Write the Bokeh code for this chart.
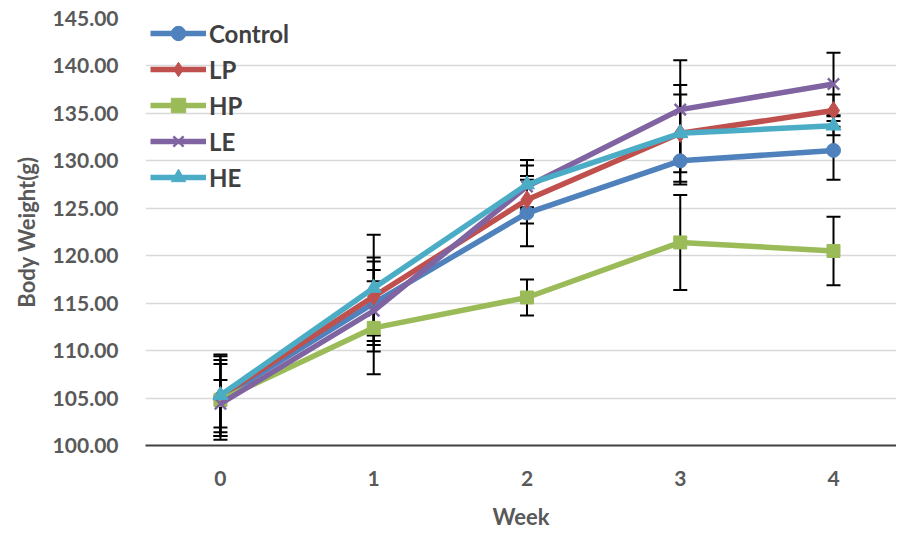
from bokeh.plotting import figure
from bokeh.models import ColumnDataSource, Whisker, TeeHead, Range1d, FixedTicker, NumeralTickFormatter, Legend, LegendItem
from bokeh.embed import file_html
from bokeh.resources import INLINE

weeks = [0, 1, 2, 3, 4]
series_names = ["Control", "LP", "HP", "LE", "HE"]
control = [105.0, 115.0, 124.5, 130.0, 131.1]
lp = [105.2, 115.7, 125.9, 132.9, 135.3]
hp = [104.8, 112.4, 115.6, 121.4, 120.5]
le = [104.4, 114.2, 127.3, 135.4, 138.1]
he = [105.3, 116.6, 127.5, 132.9, 133.7]
control_err = [4.4, 4.4, 3.5, 2.5, 3.1]
lp_err = [3.8, 4.1, 2.5, 5.1, 1.7]
hp_err = [3.8, 4.9, 1.9, 5.0, 3.6]
le_err = [2.5, 4.3, 2.2, 5.2, 3.3]
he_err = [4.3, 5.6, 2.6, 4.1, 1.0]

values = [control, lp, hp, le, he]
errors = [control_err, lp_err, hp_err, le_err, he_err]
colors = ["#4F81BD", "#C0504D", "#9BBB59", "#8064A2", "#4BACC6"]
markers = ["circle", "diamond", "square", "x", "triangle"]
msizes = [14, 18, 13, 16, 15]

FONT = "Lato"
p = figure(width=896, height=533, output_backend="svg", toolbar_location=None,
           x_range=Range1d(-0.489, 4.411), y_range=Range1d(100, 145),
           min_border_left=145, min_border_right=0, min_border_top=18, min_border_bottom=88)
p.outline_line_color = None
p.background_fill_color = "white"
p.xgrid.grid_line_color = None
p.ygrid.grid_line_color = "#D9D9D9"
p.ygrid.grid_line_width = 1.5

p.yaxis.ticker = FixedTicker(ticks=[100, 105, 110, 115, 120, 125, 130, 135, 140, 145])
p.yaxis.formatter = NumeralTickFormatter(format="0.00")
p.yaxis.axis_line_color = None
p.yaxis.major_tick_line_color = None
p.yaxis.minor_tick_line_color = None
p.yaxis.major_tick_out = 0
p.yaxis.major_tick_in = 0
p.yaxis.minor_tick_out = 0
p.yaxis.major_label_standoff = 27
p.yaxis.axis_label = "Body Weight(g)"
p.yaxis.axis_label_standoff = 10

p.xaxis.ticker = FixedTicker(ticks=weeks)
p.xaxis.axis_line_color = "#404040"
p.xaxis.axis_line_width = 2
p.xaxis.major_tick_line_color = None
p.xaxis.minor_tick_line_color = None
p.xaxis.major_tick_out = 0
p.xaxis.major_tick_in = 0
p.xaxis.minor_tick_out = 0
p.xaxis.major_label_standoff = 25
p.xaxis.axis_label = "Week"
p.xaxis.axis_label_standoff = 14

for ax in (p.xaxis, p.yaxis):
    ax.major_label_text_font = FONT
    ax.major_label_text_font_style = "bold"
    ax.major_label_text_font_size = "21px"
    ax.major_label_text_color = "#595959"
    ax.axis_label_text_font = FONT
    ax.axis_label_text_font_style = "bold"
    ax.axis_label_text_font_size = "22px"
    ax.axis_label_text_color = "#595959"

items = []
for name, v, c, m, s in zip(series_names, values, colors, markers, msizes):
    src = ColumnDataSource(dict(x=weeks, y=v))
    r1 = p.line("x", "y", source=src, line_color=c, line_width=5.5)
    if m == "x":
        r2 = p.scatter("x", "y", source=src, marker=m, size=s, line_color=c, line_width=2.5)
    else:
        r2 = p.scatter("x", "y", source=src, marker=m, size=s, fill_color=c, line_color=c)
    items.append(LegendItem(label=name, renderers=[r1, r2]))

bx, bu, bl = [], [], []
for v, e in zip(values, errors):
    for w, val, err in zip(weeks, v, e):
        bx.append(w)
        bu.append(val + err)
        bl.append(val - err)
wsrc = ColumnDataSource(dict(x=bx, upper=bu, lower=bl))
wh = Whisker(source=wsrc, base="x", upper="upper", lower="lower",
             line_color="black", line_width=2,
             upper_head=TeeHead(size=14, line_color="black", line_width=2),
             lower_head=TeeHead(size=14, line_color="black", line_width=2))
p.add_layout(wh)

legend = Legend(items=items, location=(5, 250), spacing=0, padding=0, margin=0,
                glyph_width=56, glyph_height=36, label_height=36, label_width=110,
                label_text_font=FONT, label_text_font_style="bold",
                label_text_font_size="24px", label_text_color="#404040",
                label_standoff=3, background_fill_alpha=0, border_line_color=None)
p.add_layout(legend)

open("out.html", "w").write(file_html(p, INLINE))
